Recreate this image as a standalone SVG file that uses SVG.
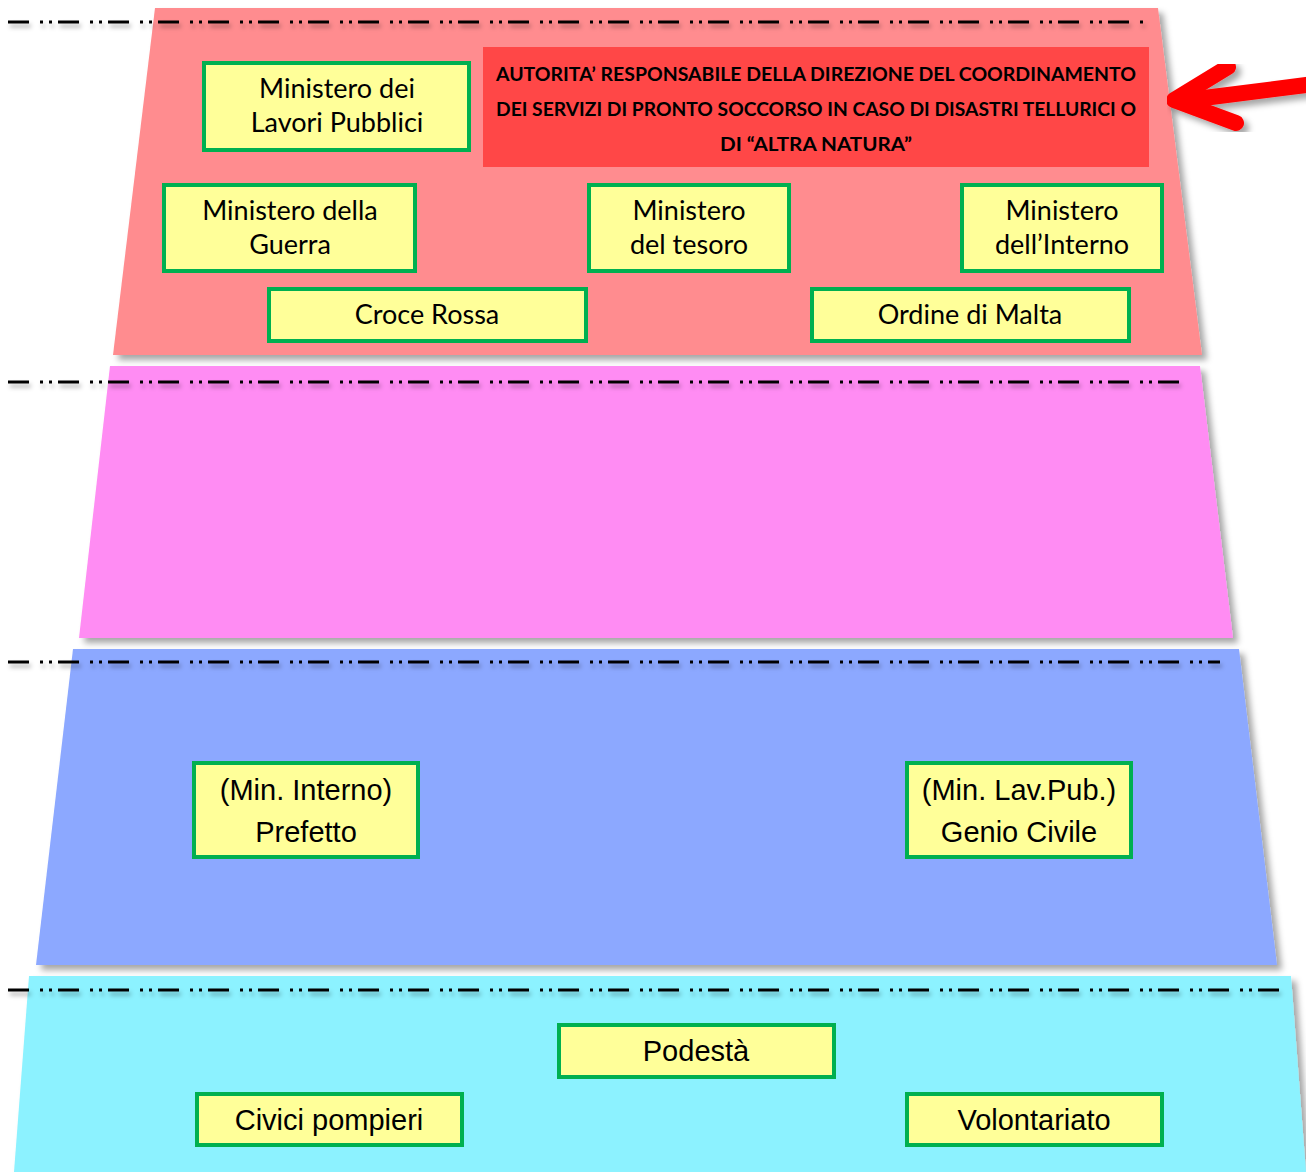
<svg xmlns="http://www.w3.org/2000/svg" width="1306" height="1172" viewBox="0 0 1306 1172">
<defs>
<filter id="sh" x="-5%" y="-5%" width="115%" height="120%">
<feDropShadow dx="5" dy="5" stdDeviation="3" flood-color="#000" flood-opacity="0.35"/>
</filter>
<filter id="lsh" x="-5%" y="-200%" width="110%" height="500%">
<feDropShadow dx="2" dy="4" stdDeviation="2" flood-color="#000" flood-opacity="0.3"/>
</filter>
<style>
.box{fill:#FFFF99;stroke:#00B050;stroke-width:4}
.c{font-family:Lato,"Noto Sans",sans-serif;font-size:27px;fill:#000;text-anchor:middle}
.a{font-family:"Liberation Sans",Arial,sans-serif;font-size:29px;fill:#000;text-anchor:middle}
.r{font-family:Lato,"Noto Sans",sans-serif;font-size:19px;font-weight:bold;fill:#000;text-anchor:middle}
.dl{fill:none;stroke:#000;stroke-width:3;stroke-dasharray:21 11 3 6 3 6}
</style>
</defs>
<rect width="1306" height="1172" fill="#fff"/>
<g id="levels">
<polygon points="155,8 1158,8 1202,355 113,355" fill="#FF8C8F" filter="url(#sh)"/>
<polygon points="110,366 1200,366 1233,638 79,638" fill="#FF8CF3" filter="url(#sh)"/>
<polygon points="73,649 1239,649 1277,965 36,965" fill="#8CA8FF" filter="url(#sh)"/>
<polygon points="29,976 1291,976 1306,1172 14,1172" fill="#8CF2FF" filter="url(#sh)"/>
</g>
<g id="lines" filter="url(#lsh)">
<line class="dl" x1="8" y1="22" x2="1148" y2="22"/>
<line class="dl" x1="8" y1="382" x2="1188" y2="382"/>
<line class="dl" x1="8" y1="662" x2="1220" y2="662"/>
<line class="dl" x1="8" y1="990" x2="1282" y2="990"/>
</g>
<g id="authority">
<rect x="483" y="47" width="666" height="120" fill="#FF4747"/>
<text class="r" x="816" y="81" textLength="640" lengthAdjust="spacingAndGlyphs">AUTORITA’ RESPONSABILE DELLA DIREZIONE DEL COORDINAMENTO</text>
<text class="r" x="816" y="116" textLength="640" lengthAdjust="spacingAndGlyphs">DEI SERVIZI DI PRONTO SOCCORSO IN CASO DI DISASTRI TELLURICI O</text>
<text class="r" x="816" y="151" textLength="192" lengthAdjust="spacingAndGlyphs">DI “ALTRA NATURA”</text>
</g>
<g id="arrow" filter="url(#sh)" stroke="#FF0000" stroke-width="16" stroke-linecap="round" stroke-linejoin="round" fill="none">
<line x1="1314" y1="84" x2="1180" y2="101"/>
<polyline points="1228,67 1174,100 1236,123"/>
</g>
<g id="n1"><rect class="box" x="204" y="63" width="265" height="87"/><text class="c" x="337" y="98">Ministero dei</text><text class="c" x="337" y="132">Lavori Pubblici</text></g>
<g id="n2"><rect class="box" x="164" y="185" width="251" height="86"/><text class="c" x="290" y="220">Ministero della</text><text class="c" x="290" y="254">Guerra</text></g>
<g id="n3"><rect class="box" x="589" y="185" width="200" height="86"/><text class="c" x="689" y="220">Ministero</text><text class="c" x="689" y="254">del tesoro</text></g>
<g id="n4"><rect class="box" x="962" y="185" width="200" height="86"/><text class="c" x="1062" y="220">Ministero</text><text class="c" x="1062" y="254">dell’Interno</text></g>
<g id="n5"><rect class="box" x="269" y="289" width="317" height="52"/><text class="c" x="427" y="324">Croce Rossa</text></g>
<g id="n6"><rect class="box" x="812" y="289" width="317" height="52"/><text class="c" x="970" y="324">Ordine di Malta</text></g>
<g id="n7"><rect class="box" x="194" y="763" width="224" height="94"/><text class="a" x="306" y="800">(Min. Interno)</text><text class="a" x="306" y="842">Prefetto</text></g>
<g id="n8"><rect class="box" x="907" y="763" width="224" height="94"/><text class="a" x="1019" y="800">(Min. Lav.Pub.)</text><text class="a" x="1019" y="842">Genio Civile</text></g>
<g id="n9"><rect class="box" x="559" y="1025" width="275" height="52"/><text class="a" x="696" y="1061">Podestà</text></g>
<g id="n10"><rect class="box" x="197" y="1094" width="265" height="51"/><text class="a" x="329" y="1130">Civici pompieri</text></g>
<g id="n11"><rect class="box" x="907" y="1094" width="255" height="51"/><text class="a" x="1034" y="1130">Volontariato</text></g>
</svg>
